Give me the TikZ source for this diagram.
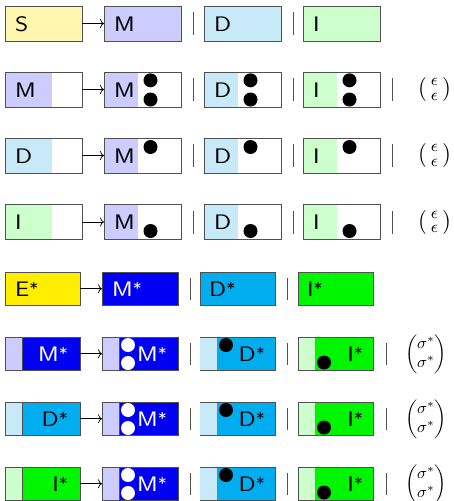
\documentclass[tikz,border=0pt]{standalone}
\usepackage{amsmath}
\usepackage{graphicx}
\usetikzlibrary{arrows.meta}
\definecolor{paleS}{HTML}{FFF6B0}
\definecolor{paleM}{HTML}{CCCCFF}
\definecolor{paleD}{HTML}{C8EAF8}
\definecolor{paleI}{HTML}{CCFFCC}
\definecolor{strE}{HTML}{FFEE00}
\definecolor{strM}{HTML}{0000F2}
\definecolor{strD}{HTML}{00AEEF}
\definecolor{strI}{HTML}{00F500}
\definecolor{edgec}{HTML}{505050}
\newcommand{\lblfont}{\fontsize{21}{25}\selectfont\sffamily}
\newcommand{\stx}[1]{\scalebox{1.2}[1]{#1}}
\newcommand{\myast}{\raisebox{1.5pt}{\fontsize{16}{16}\selectfont *}}
\tikzset{
  qb/.style={draw=edgec, line width=0.9pt, anchor=north west, inner sep=0pt, outer sep=0pt},
  tl/.style={font=\lblfont, text height=15pt, text depth=0pt, inner sep=0pt},
  conn/.style={-{Computer Modern Rightarrow[length=4pt,width=9pt]}, line width=0.7pt},
  sepbar/.style={draw=edgec, line width=1pt},
  bdot/.style={circle, fill=black, inner sep=0pt, minimum size=14pt},
  wdot/.style={circle, fill=white, inner sep=0pt, minimum size=14pt},
}
% #1 name, #2 x, #3 y, #4 width, #5 height, #6 main fill, #7 pale fill, #8 pale width
\newcommand{\qbox}[8]{%
  \node[qb, minimum width=#4pt, minimum height=#5pt,
    path picture={\fill[#6] (path picture bounding box.south west) rectangle (path picture bounding box.north east);
                  \fill[#7] (path picture bounding box.north west) rectangle ([xshift=#8pt]path picture bounding box.south west);}]
    (#1) at (#2,#3) {};}
\begin{document}
\begin{tikzpicture}[x=1pt, y=-1pt]
\useasboundingbox (0,0) rectangle (453,501);
% ---------- row 1 ----------
\qbox{r1a}{5}{6}{77}{35}{paleS}{paleS}{0}
\qbox{r1b}{104}{6}{77}{35}{paleM}{paleM}{0}
\qbox{r1c}{204}{6}{77}{35}{paleD}{paleD}{0}
\qbox{r1d}{303}{6}{77}{35}{paleI}{paleI}{0}
\node[tl, anchor=west] (r1at) at ([xshift=10pt]r1a.west) {\stx{S}};
\node[tl, anchor=west] (r1bt) at ([xshift=10pt]r1b.west) {\stx{M}};
\node[tl, anchor=west] (r1ct) at ([xshift=10pt]r1c.west) {\stx{D}};
\node[tl, anchor=west] (r1dt) at ([xshift=10pt]r1d.west) {\stx{I}};
\draw[conn] (r1a) -- (r1b);
\draw[sepbar] (193,12) -- (193,35);
\draw[sepbar] (293,12) -- (293,35);
% ---------- rows 2-4 ----------
\foreach \r/\t/\first/\pc in {2/72/M/paleM, 3/138/D/paleD, 4/204.5/I/paleI}{
  \qbox{r\r a}{5}{\t}{77}{35}{white}{\pc}{47}
  \qbox{r\r b}{104}{\t}{77}{35}{white}{paleM}{34}
  \qbox{r\r c}{204}{\t}{77}{35}{white}{paleD}{34}
  \qbox{r\r d}{303}{\t}{77}{35}{white}{paleI}{34}
  \node[tl, anchor=west] (r\r at) at ([xshift=10pt]r\r a.west) {\stx{\first}};
  \node[tl, anchor=west] (r\r bt) at ([xshift=10pt]r\r b.west) {\stx{M}};
  \node[tl, anchor=west] (r\r ct) at ([xshift=10pt]r\r c.west) {\stx{D}};
  \node[tl, anchor=west] (r\r dt) at ([xshift=10pt]r\r d.west) {\stx{I}};
  \draw[conn] (r\r a) -- (r\r b);
  \draw[sepbar] (193,\t+6) -- (193,\t+29);
  \draw[sepbar] (293,\t+6) -- (293,\t+29);
  \draw[sepbar] (392,\t+6) -- (392,\t+29);
  \node[inner sep=0pt] (r\r p) at (434.5,\t+17.5)
    {\resizebox*{33pt}{24pt}{$\left(\begin{smallmatrix}\epsilon\\ \epsilon\end{smallmatrix}\right)$}};
}
% dots rows 2-4
\foreach \c in {b,c,d}{
  \node[bdot] (r2\c1) at ([xshift=46.5pt,yshift=-8.3pt]r2\c.north west) {};
  \node[bdot] (r2\c2) at ([xshift=46.5pt,yshift=-27.5pt]r2\c.north west) {};
  \node[bdot] (r3\c1) at ([xshift=46.5pt,yshift=-9pt]r3\c.north west) {};
  \node[bdot] (r4\c1) at ([xshift=46.5pt,yshift=-26.5pt]r4\c.north west) {};
}
% ---------- row 5 ----------
\qbox{r5a}{5}{272}{75}{33.5}{strE}{strE}{0}
\qbox{r5b}{102}{272}{76}{33.5}{strM}{strM}{0}
\qbox{r5c}{200}{272}{75}{33.5}{strD}{strD}{0}
\qbox{r5d}{298}{272}{75}{33.5}{strI}{strI}{0}
\node[tl, anchor=west] (r5at) at ([xshift=10pt]r5a.west) {\stx{E\myast}};
\node[tl, anchor=west, text=white] (r5bt) at ([xshift=10pt]r5b.west) {\stx{M\myast}};
\node[tl, anchor=west] (r5ct) at ([xshift=9pt]r5c.west) {\stx{D\myast}};
\node[tl, anchor=west] (r5dt) at ([xshift=9pt]r5d.west) {\stx{I\myast}};
\draw[conn] (r5a) -- (r5b);
\draw[sepbar] (190,278) -- (190,300);
\draw[sepbar] (287,278) -- (287,300);
% ---------- rows 6-8 ----------
\foreach \r/\t/\first/\pc/\sc/\tc in {6/337/M/paleM/strM/white, 7/402/D/paleD/strD/black, 8/467/I/paleI/strI/black}{
  \qbox{r\r a}{5}{\t}{75}{33.5}{\sc}{\pc}{17}
  \qbox{r\r b}{102}{\t}{76}{33.5}{strM}{paleM}{17}
  \qbox{r\r c}{200}{\t}{75}{33.5}{strD}{paleD}{17}
  \qbox{r\r d}{298}{\t}{75}{33.5}{strI}{paleI}{17}
  \draw[edgec, line width=0.9pt] ([xshift=17pt]r\r a.north west) -- ([xshift=17pt]r\r a.south west);
  \draw[edgec, line width=0.9pt] ([xshift=17pt]r\r b.north west) -- ([xshift=17pt]r\r b.south west);
  \draw[paleD, line width=0.9pt] ([yshift=-0.5pt]r\r c.north west) -- ([yshift=0.5pt]r\r c.south west);
  \node[tl, anchor=east, text=\tc] (r\r at) at ([xshift=-12pt]r\r a.east) {\stx{\first\myast}};
  \node[tl, anchor=east, text=white] (r\r bt) at ([xshift=-11pt]r\r b.east) {\stx{M\myast}};
  \node[tl, anchor=east] (r\r ct) at ([xshift=-10pt]r\r c.east) {\stx{D\myast}};
  \node[tl, anchor=east] (r\r dt) at ([xshift=-10pt]r\r d.east) {\stx{I\myast}};
  \node[wdot] (r\r b1) at ([xshift=26pt,yshift=-8pt]r\r b.north west) {};
  \node[wdot] (r\r b2) at ([xshift=26pt,yshift=-26pt]r\r b.north west) {};
  \node[bdot] (r\r c1) at ([xshift=26pt,yshift=-8pt]r\r c.north west) {};
  \node[bdot] (r\r d1) at ([xshift=26pt,yshift=-25.5pt]r\r d.north west) {};
  \draw[conn] (r\r a) -- (r\r b);
  \draw[sepbar] (190,\t+6) -- (190,\t+28);
  \draw[sepbar] (287,\t+6) -- (287,\t+28);
  \draw[sepbar] (386,\t+6) -- (386,\t+28);
  \node[inner sep=0pt] (r\r p) at (426,\t+17)
    {\resizebox*{42pt}{39pt}{$\begin{pmatrix}\sigma^*\\ \sigma^*\end{pmatrix}$}};
}
\end{tikzpicture}
\end{document}
